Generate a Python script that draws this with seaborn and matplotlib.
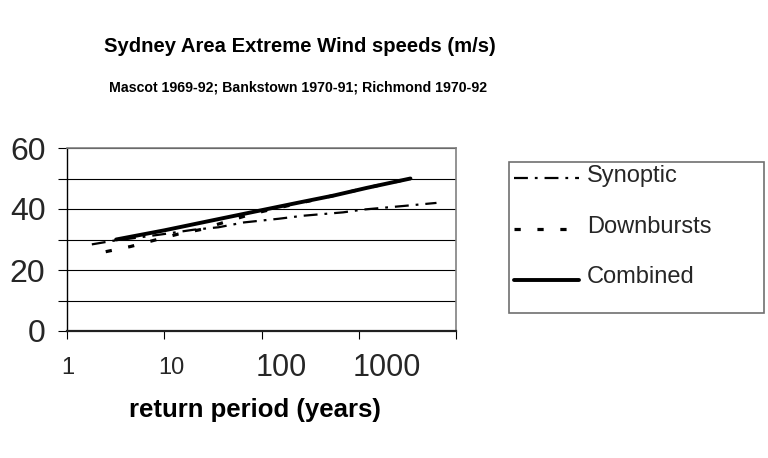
import matplotlib
matplotlib.use("Agg")
import matplotlib.pyplot as plt
import matplotlib.transforms as mtransforms
from matplotlib.patches import Rectangle
import seaborn as sns
import pandas as pd

# ---- data ----
synoptic_period = [1.8, 3.0, 5.0, 10, 20, 36, 66, 150, 270, 690, 1100, 2900, 6300]
synoptic_speed = [28.4, 29.6, 30.5, 31.8, 33.2, 34.0, 35.6, 36.8, 37.8, 38.9, 39.8, 41.0, 42.0]

downburst_period = [2.5, 4.5, 8, 14, 24, 41, 80, 145, 550, 1200, 3400]
downburst_speed = [26.0, 27.7, 29.8, 31.8, 33.3, 35.6, 38.4, 40.3, 44.4, 46.9, 50.0]

combined_period = [3.2, 10, 35, 100, 250, 550, 1200, 3400]
combined_speed = [30.0, 33.0, 36.6, 39.6, 42.2, 44.4, 46.9, 50.0]

series_names = ["Synoptic", "Downbursts", "Combined"]
x_ticks = [1, 10, 100, 1000, 10000]
x_tick_labels = ["1", "10", "100", "1000", ""]
y_ticks = [0, 10, 20, 30, 40, 50, 60]
y_tick_labels = ["0", "", "20", "", "40", "", "60"]

title = "Sydney Area Extreme Wind speeds (m/s)"
subtitle = "Mascot 1969-92; Bankstown 1970-91; Richmond 1970-92"
x_label = "return period (years)"

# ---- style ----
sns.set_style("white")
plt.rcParams["font.family"] = ["Liberation Sans", "DejaVu Sans"]
plt.rcParams["lines.scale_dashes"] = False

W, H = 768, 458
fig = plt.figure(figsize=(W / 100, H / 100), dpi=100)

def fx(px):
    return px / W

def fy(py):
    return 1 - py / H

ax = fig.add_axes([fx(67), fy(331), fx(456) - fx(67), fy(148) - fy(331)])
ax.set_xscale("log")

df_syn = pd.DataFrame({"period": synoptic_period, "speed": synoptic_speed})
df_dwn = pd.DataFrame({"period": downburst_period, "speed": downburst_speed})
df_cmb = pd.DataFrame({"period": combined_period, "speed": combined_speed})

sns.lineplot(data=df_syn, x="period", y="speed", ax=ax, color="black",
             linewidth=1.6, linestyle=(0, (10, 5, 2, 5)),
             estimator=None, sort=False, label=series_names[0])
sns.lineplot(data=df_dwn, x="period", y="speed", ax=ax, color="black",
             linewidth=2.3, linestyle=(0, (4.5, 12)),
             estimator=None, sort=False, label=series_names[1])
sns.lineplot(data=df_cmb, x="period", y="speed", ax=ax, color="black",
             linewidth=2.8, linestyle="-",
             estimator=None, sort=False, label=series_names[2])

ax.set_xlim(1, 10000)
ax.set_ylim(0, 60)
ax.set_xticks(x_ticks)
ax.set_xticklabels(x_tick_labels)
ax.minorticks_off()
ax.set_yticks(y_ticks)
ax.set_yticklabels(y_tick_labels, fontsize=23)
ax.set_xlabel("")
ax.set_ylabel("")

ax.grid(axis="y", color="black", linewidth=0.8)
ax.grid(axis="x", visible=False)
ax.set_axisbelow(True)

for side in ["top", "right"]:
    ax.spines[side].set_color("#808080")
    ax.spines[side].set_linewidth(1.2)
ax.spines["left"].set_color("black")
ax.spines["left"].set_linewidth(1.0)
ax.spines["bottom"].set_color("#202020")
ax.spines["bottom"].set_linewidth(1.6)

ax.tick_params(axis="y", direction="out", length=6.5, width=0.8, color="black",
               pad=9, left=True)
ax.tick_params(axis="x", direction="out", length=6, width=0.8, color="black",
               pad=21, bottom=True)

x_sizes = [17, 17, 22, 22, 10]
offset = mtransforms.ScaledTranslation(-6 / 100, 0, fig.dpi_scale_trans)
for lbl, s in zip(ax.get_xticklabels(), x_sizes):
    lbl.set_fontsize(s)
    lbl.set_horizontalalignment("left")
    lbl.set_verticalalignment("center")
    lbl.set_transform(lbl.get_transform() + offset)

# legend
handles, labels = ax.get_legend_handles_labels()
ax.get_legend().remove()
fig.patches.append(Rectangle((fx(509), fy(313)), fx(764) - fx(509), fy(162) - fy(313),
                             transform=fig.transFigure, fill=False,
                             edgecolor="#707070", linewidth=1.2))
leg = fig.legend(handles, labels, loc="upper left", bbox_to_anchor=(fx(509), fy(160)),
                 frameon=False, fontsize=17, handlelength=2.75, handletextpad=0.35,
                 labelspacing=1.22, borderpad=0.2, borderaxespad=0)
down = mtransforms.ScaledTranslation(0, -5 / 100, fig.dpi_scale_trans)
for ln in leg.get_lines():
    ln.set_transform(ln.get_transform() + down)

# titles
fig.text(fx(300), fy(47), title, ha="center", va="center", fontsize=14.6,
         fontweight="bold", color="black")
fig.text(fx(298), fy(88), subtitle, ha="center", va="center", fontsize=10.2,
         fontweight="bold", color="black")
fig.text(fx(255), fy(410), x_label, ha="center", va="center", fontsize=18.5,
         fontweight="bold", color="black")

fig.savefig("out.png", dpi=100)
